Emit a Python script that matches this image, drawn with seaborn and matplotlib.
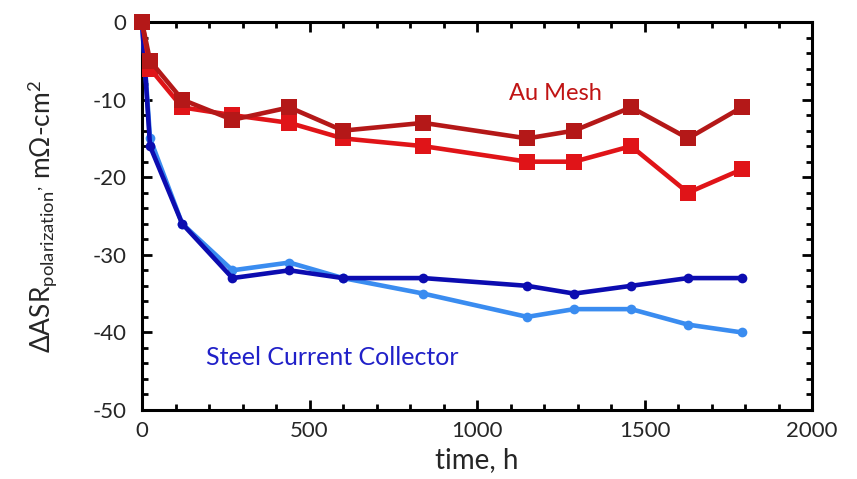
import matplotlib
matplotlib.use("Agg")
import matplotlib.pyplot as plt
import seaborn as sns
import pandas as pd
from matplotlib.ticker import MultipleLocator

sns.set_theme(style="white")
plt.rcParams['font.family'] = ['Lato', 'DejaVu Sans']
plt.rcParams['mathtext.fontset'] = 'custom'
plt.rcParams['mathtext.rm'] = 'Lato'
plt.rcParams['mathtext.it'] = 'Lato:italic'
plt.rcParams['axes.unicode_minus'] = False

time_h = [0, 24, 120, 270, 440, 600, 840, 1150, 1290, 1460, 1630, 1790]
au_mesh_1 = [0, -5, -10, -12.6, -11, -14, -13, -15, -14, -11, -15, -11]
au_mesh_2 = [0, -6, -11, -12, -13, -15, -16, -18, -18, -16, -22, -19]
steel_1 = [0, -16, -26, -33, -32, -33, -33, -34, -35, -34, -33, -33]
steel_2 = [0, -15, -26, -32, -31, -33, -35, -38, -37, -37, -39, -40]

fig = plt.figure(figsize=(8.57, 4.79), dpi=100)
ax = fig.add_axes([142/857, 1-410/479, (812-142)/857, (410-22)/479])

series = [
    (steel_2, '#3a8cf0', 'o', 7),
    (steel_1, '#0c0cb0', 'o', 7),
    (au_mesh_2, '#e01418', 's', 11),
    (au_mesh_1, '#b41818', 's', 11),
]
for vals, col, mk, ms in series:
    df = pd.DataFrame({'t': time_h, 'v': vals})
    sns.lineplot(data=df, x='t', y='v', ax=ax, color=col, marker=mk,
                 markersize=ms, markeredgewidth=0, linewidth=3.3,
                 clip_on=False, zorder=3)

ax.set_xlim(0, 2000)
ax.set_ylim(-50, 0)
ax.xaxis.set_major_locator(MultipleLocator(500))
ax.xaxis.set_minor_locator(MultipleLocator(100))
ax.yaxis.set_major_locator(MultipleLocator(10))
ax.yaxis.set_minor_locator(MultipleLocator(2))
ax.tick_params(which='both', direction='in', top=True, right=True,
               bottom=True, left=True, color='black', width=2)
ax.tick_params(which='major', length=7, labelsize=16)
ax.tick_params(axis='x', which='major', pad=8)
ax.tick_params(axis='y', which='major', pad=11)
ax.tick_params(which='minor', length=4)
for s in ax.spines.values():
    s.set_color('black')
    s.set_linewidth(2.2)

ax.set_xlabel('time, h', fontsize=20, labelpad=4)
ax.set_ylabel(r'$\Delta$ASR$_{\mathrm{polarization}}$$^{,}$ m$\Omega$-cm$^{2}$', fontsize=19, labelpad=24)

ax.text(1233, -9.2, 'Au Mesh', color='#c01414', fontsize=17, ha='center', va='center')
ax.text(567, -43.2, 'Steel Current Collector', color='#2020c8', fontsize=18, ha='center', va='center')

fig.savefig('out.png', dpi=100)
